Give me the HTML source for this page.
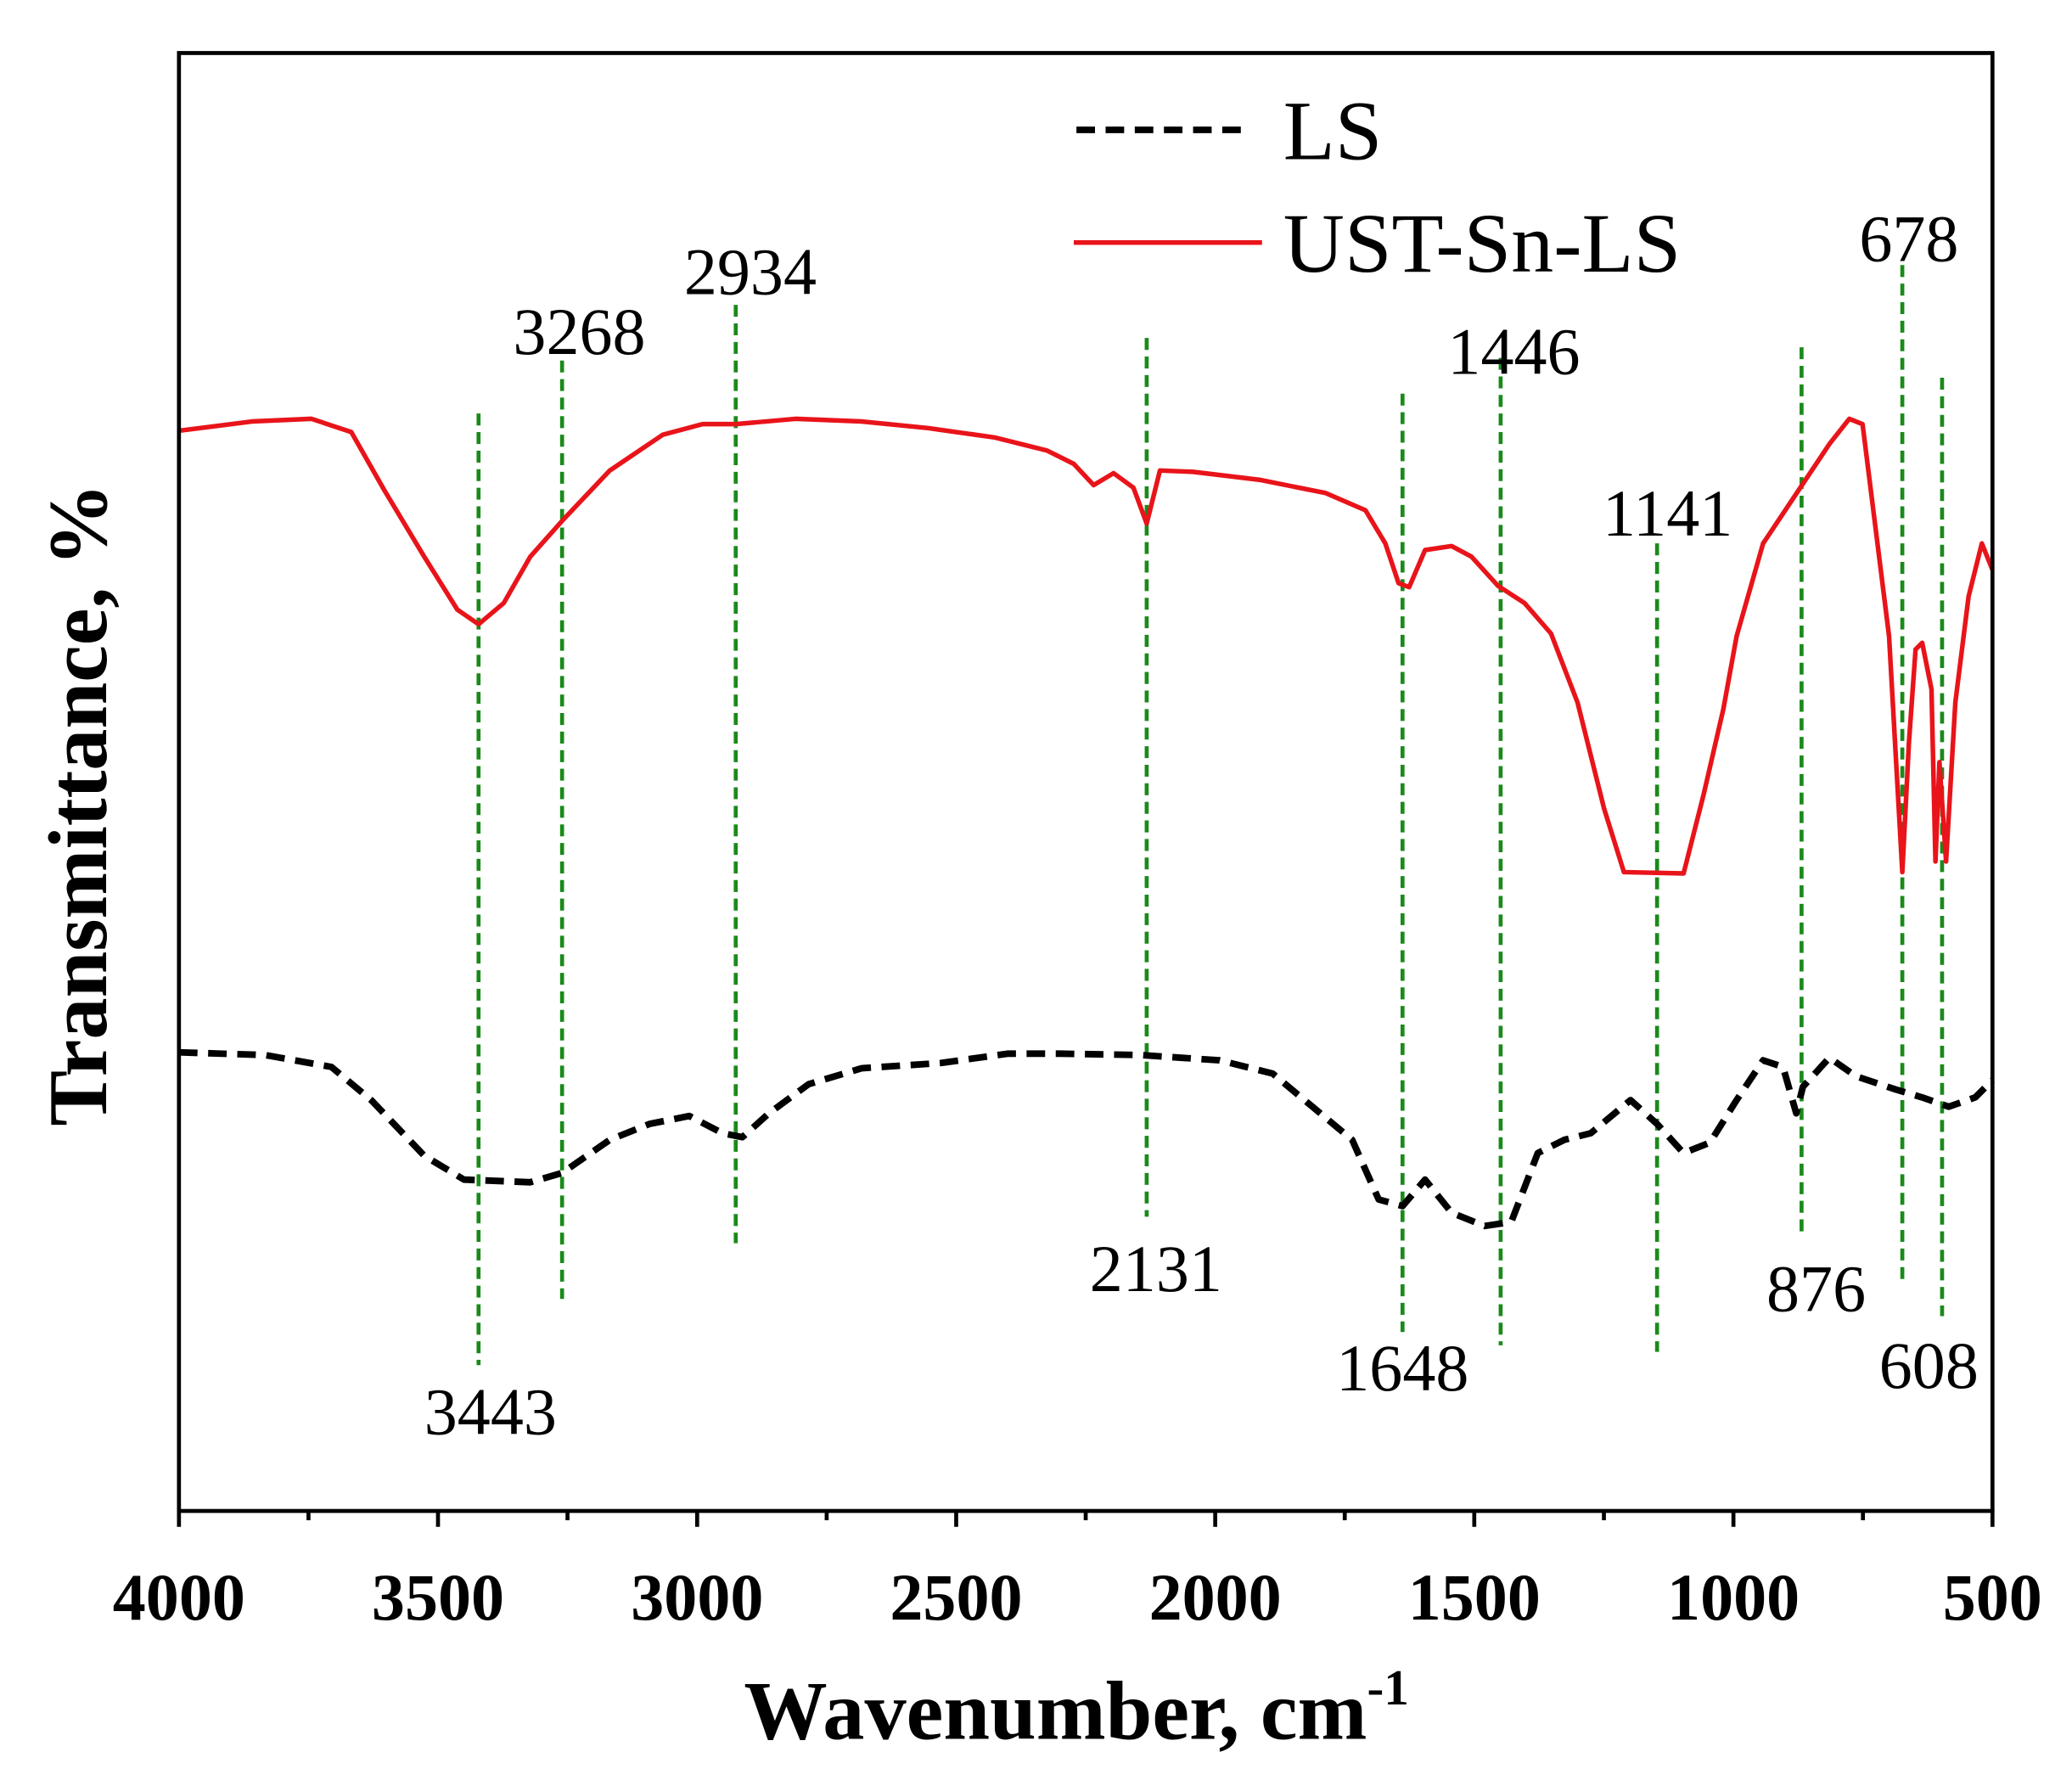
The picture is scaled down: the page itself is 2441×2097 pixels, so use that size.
<!DOCTYPE html>
<html><head><meta charset="utf-8"><style>
html,body{margin:0;padding:0;background:#fff;}
svg{display:block;}
text{font-family:"Liberation Serif",serif;}
</style></head><body>
<svg width="2441" height="2097" viewBox="0 0 1563 1343" preserveAspectRatio="none" xmlns="http://www.w3.org/2000/svg">
<rect x="0" y="0" width="1563" height="1343" fill="#fff"/>
<g stroke="#1a8a1a" stroke-width="3" stroke-dasharray="9,5" fill="none">
<line x1="361" y1="312" x2="361" y2="1030"/>
<line x1="424" y1="272" x2="424" y2="980"/>
<line x1="555" y1="230" x2="555" y2="938"/>
<line x1="865" y1="255" x2="865" y2="918"/>
<line x1="1058" y1="297" x2="1058" y2="1005"/>
<line x1="1132" y1="270" x2="1132" y2="1015"/>
<line x1="1250" y1="410" x2="1250" y2="1020"/>
<line x1="1359" y1="262" x2="1359" y2="932"/>
<line x1="1435" y1="200" x2="1435" y2="965"/>
<line x1="1465" y1="285" x2="1465" y2="993"/>
</g>
<polyline fill="none" stroke="#e8141a" stroke-width="3.5" stroke-linejoin="round" points="135,325 190,318 235,316 265,326 290,370 320,420 345,460 361,471 380,455 400,420 424,393 460,355 500,328 530,320 555,320 600,316 650,318 700,323 750,330 770,335 790,340 810,350 825,366 840,357 855,368 865,395 875,355 900,356 950,362 1000,372 1030,385 1045,410 1055,440 1063,443 1075,415 1095,412 1110,420 1130,442 1150,455 1170,478 1190,530 1210,610 1225,658 1270,659 1285,600 1300,535 1310,480 1330,410 1360,365 1380,335 1395,316 1405,320 1415,400 1425,480 1435,658 1440,560 1445,490 1450,485 1457,520 1460,650 1463,575 1468,650 1475,530 1485,450 1495,410 1503,430"/>
<polyline fill="none" stroke="#000" stroke-width="5" stroke-dasharray="14,8" stroke-linejoin="round" points="135,794 200,796 250,805 280,830 320,872 350,890 400,892 424,885 460,860 490,848 520,842 545,855 560,858 580,840 610,818 650,806 710,802 760,795 800,795 860,796 920,800 960,810 990,835 1020,860 1040,905 1058,910 1075,890 1095,915 1120,925 1140,922 1160,870 1180,860 1200,855 1230,830 1250,848 1270,870 1290,862 1310,830 1330,800 1345,805 1355,840 1360,820 1380,798 1400,812 1430,822 1450,828 1470,835 1490,828 1503,815"/>
<rect x="135" y="40" width="1368" height="1100" fill="none" stroke="#000" stroke-width="3"/>
<g stroke="#000" stroke-width="3">
<line x1="135" y1="1140" x2="135" y2="1152"/><line x1="232.7" y1="1140" x2="232.7" y2="1147"/>
<line x1="330.4" y1="1140" x2="330.4" y2="1152"/><line x1="428.1" y1="1140" x2="428.1" y2="1147"/>
<line x1="525.9" y1="1140" x2="525.9" y2="1152"/><line x1="623.6" y1="1140" x2="623.6" y2="1147"/>
<line x1="721.3" y1="1140" x2="721.3" y2="1152"/><line x1="819" y1="1140" x2="819" y2="1147"/>
<line x1="916.7" y1="1140" x2="916.7" y2="1152"/><line x1="1014.4" y1="1140" x2="1014.4" y2="1147"/>
<line x1="1112.1" y1="1140" x2="1112.1" y2="1152"/><line x1="1209.9" y1="1140" x2="1209.9" y2="1147"/>
<line x1="1307.6" y1="1140" x2="1307.6" y2="1152"/><line x1="1405.3" y1="1140" x2="1405.3" y2="1147"/>
<line x1="1503" y1="1140" x2="1503" y2="1152"/>
</g>
<g font-size="50" font-weight="bold" text-anchor="middle" fill="#000">
<text x="135" y="1222">4000</text><text x="330.4" y="1222">3500</text><text x="525.9" y="1222">3000</text>
<text x="721.3" y="1222">2500</text><text x="916.7" y="1222">2000</text><text x="1112.1" y="1222">1500</text>
<text x="1307.6" y="1222">1000</text><text x="1503" y="1222">500</text>
</g>
<text x="812" y="1312" font-size="63" font-weight="bold" text-anchor="middle">Wavenumber, cm<tspan font-size="38" dy="-26">-1</tspan></text>
<text transform="translate(80,607) rotate(-90)" font-size="63" font-weight="bold" text-anchor="middle">Transmittance, %</text>
<line x1="812" y1="98" x2="942" y2="98" stroke="#000" stroke-width="5" stroke-dasharray="14,8"/>
<text x="968" y="120" font-size="64">LS</text>
<line x1="810" y1="183" x2="952" y2="183" stroke="#e8141a" stroke-width="3.5"/>
<text x="968" y="205" font-size="64">UST-Sn-LS</text>
<g font-size="50" text-anchor="middle" fill="#000">
<text x="370" y="1082">3443</text>
<text x="437" y="267">3268</text>
<text x="566" y="222">2934</text>
<text x="872" y="974">2131</text>
<text x="1058" y="1049">1648</text>
<text x="1142" y="282">1446</text>
<text x="1258" y="404">1141</text>
<text x="1370" y="989">876</text>
<text x="1440" y="197">678</text>
<text x="1455" y="1047">608</text>
</g>
</svg>
</body></html>
